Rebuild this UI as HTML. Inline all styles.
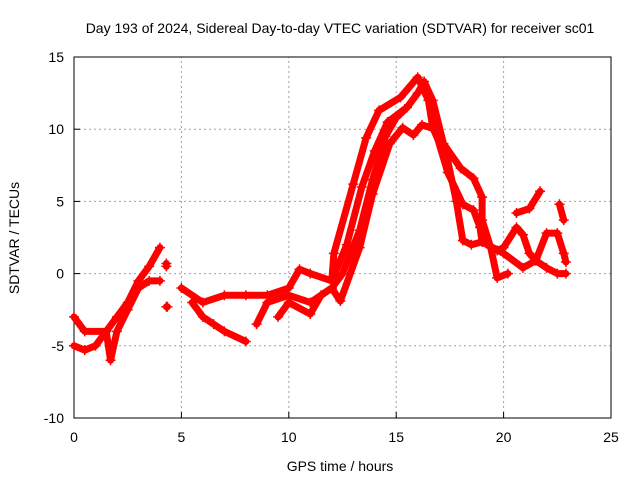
<!DOCTYPE html>
<html><head><meta charset="utf-8"><style>
body{margin:0;background:#fff}
svg text{font-family:"Liberation Sans",sans-serif;font-size:14px;fill:#000}
</style></head><body>
<svg id="chart" width="640" height="480">
<text x="340" y="33" text-anchor="middle">Day 193 of 2024, Sidereal Day-to-day VTEC variation (SDTVAR) for receiver sc01</text>
<g id="grid"></g>
<g id="axes"></g>
<g id="series"></g>
<text x="340" y="471" text-anchor="middle">GPS time / hours</text>
<text transform="translate(19,238) rotate(-90)" text-anchor="middle">SDTVAR / TECUs</text>
</svg>
<script>
const xTicks=[0,5,10,15,20,25];
const yTicks=[-10,-5,0,5,10,15];
const trackA=[[0,-3],[0.5,-4],[1.5,-4],[2,-3],[2.5,-2],[3,-0.5],[3.5,0.5],[4,1.8]];
const trackB=[[0,-5],[0.5,-5.3],[1,-5],[1.5,-4],[1.7,-6],[2,-4],[2.5,-2.5],[3,-1],[3.5,-0.5],[4,-0.5]];
const trackC=[[5,-1],[6,-2],[7,-1.5],[8,-1.5],[9,-1.5],[10,-1],[10.5,0.3],[11,0],[12,-0.5],[12.1,1.4],[13,6.2],[13.6,9.4],[14.2,11.3],[15.2,12.2],[16,13.6],[16.5,12],[16.7,10.1],[17.4,7.8],[17.8,5],[18.1,2.3],[18.5,2],[19,2.2],[19.7,1.6],[20,1.8],[20.6,3.2],[20.9,2.7],[21.2,1.4],[21.5,0.9],[22,2.8],[22.5,2.8],[22.8,1.4],[22.9,0.8]];
const trackD=[[5.5,-2],[6,-3],[6.5,-3.5],[7,-4],[8,-4.7]];
const trackE=[[8.5,-3.5],[9,-2],[10,-1.5],[11,-2],[12,-1],[12.5,0],[13.3,3],[13.9,6.5],[14.5,9.5],[15,10.8],[15.5,11.5],[16,12.5],[16.3,13.3],[16.7,12],[17.2,9],[18,7.3],[18.6,6.6],[19,5.3],[19,3.7],[19.4,1.8],[19.7,-0.3],[20.2,0]];
const trackF=[[9.5,-3],[10,-2],[11,-2.8],[11.5,-1.5],[12,-1],[12.4,-1.9],[13.3,1.8],[13.9,5.5],[14.7,9],[15.3,10.1],[15.8,9.6],[16.2,10.3],[16.8,10],[17.4,7],[18.1,4.8],[18.6,4.4],[18.9,3.2],[19,2.2],[20,1.4],[20.9,0.4],[21.5,0.9],[22,0.4],[22.5,0],[22.9,0]];
const trackM=[[12,-0.5],[12.7,2],[13.4,6],[14,8.5],[14.6,10.5],[15.4,11.4]];
const trackI=[[20.6,4.2],[21.2,4.5],[21.7,5.7]];
const trackJ=[[22.6,4.8],[22.8,3.7]];
const trackK=[[4.3,0.5],[4.3,0.7]];
const trackL=[[4.3,-2.3],[4.35,-2.3]];
const tracks=[trackA,trackB,trackC,trackD,trackE,trackF,trackM,trackI,trackJ,trackK,trackL];
const X0=74,X1=611,Y0=418,Y1=57;
const xs=v=>X0+(v-0)/25*(X1-X0);
const ys=v=>Y0-(v+10)/25*(Y0-Y1);
const NS="http://www.w3.org/2000/svg";
const grid=document.getElementById('grid'),axes=document.getElementById('axes'),ser=document.getElementById('series');
function mk(t,a,p){const e=document.createElementNS(NS,t);for(const k in a)e.setAttribute(k,a[k]);p.appendChild(e);return e;}
xTicks.forEach(t=>{const x=xs(t);
 if(t>0&&t<25){const l=mk('line',{x1:x,x2:x,y1:Y0,y2:Y1,stroke:'#a0a0a0','stroke-dasharray':'2,3'},grid);
 
 }
 const tk=mk('line',{x1:x,x2:x,y1:Y0,y2:Y0-6,stroke:'#000'},axes);
 
 
 const tx=mk('text',{x:x,y:Y0+24,'text-anchor':'middle'},axes);tx.textContent=t;
 
 });
yTicks.forEach(t=>{const y=ys(t);
 if(t>-10&&t<15){const l=mk('line',{x1:X0,x2:X1,y1:y,y2:y,stroke:'#a0a0a0','stroke-dasharray':'2,3'},grid);
 
 }
 const tk=mk('line',{x1:X0,x2:X0+6,y1:y,y2:y,stroke:'#000'},axes);
 
 
 const tx=mk('text',{x:X0-10,y:y+5,'text-anchor':'end'},axes);tx.textContent=t;
 
 });
const fr=mk('rect',{x:X0,y:Y1,width:X1-X0,height:Y0-Y1,fill:'none',stroke:'#000'},axes);


tracks.forEach((tr,i)=>{
 const pts=tr.map(p=>xs(p[0])+','+ys(p[1])).join(' ');
 const pl=mk('polyline',{points:pts,fill:'none',stroke:'#ff0000','stroke-width':7,'stroke-linejoin':'round','stroke-linecap':'round'},ser);
 
 
 tr.forEach(p=>{const x=xs(p[0]),y=ys(p[1]);
  const m=mk('path',{d:`M${x-5},${y}H${x+5}M${x},${y-5}V${y+5}`,stroke:'#ff0000','stroke-width':1.5},ser);
  
  });
});
</script>
</body></html>
